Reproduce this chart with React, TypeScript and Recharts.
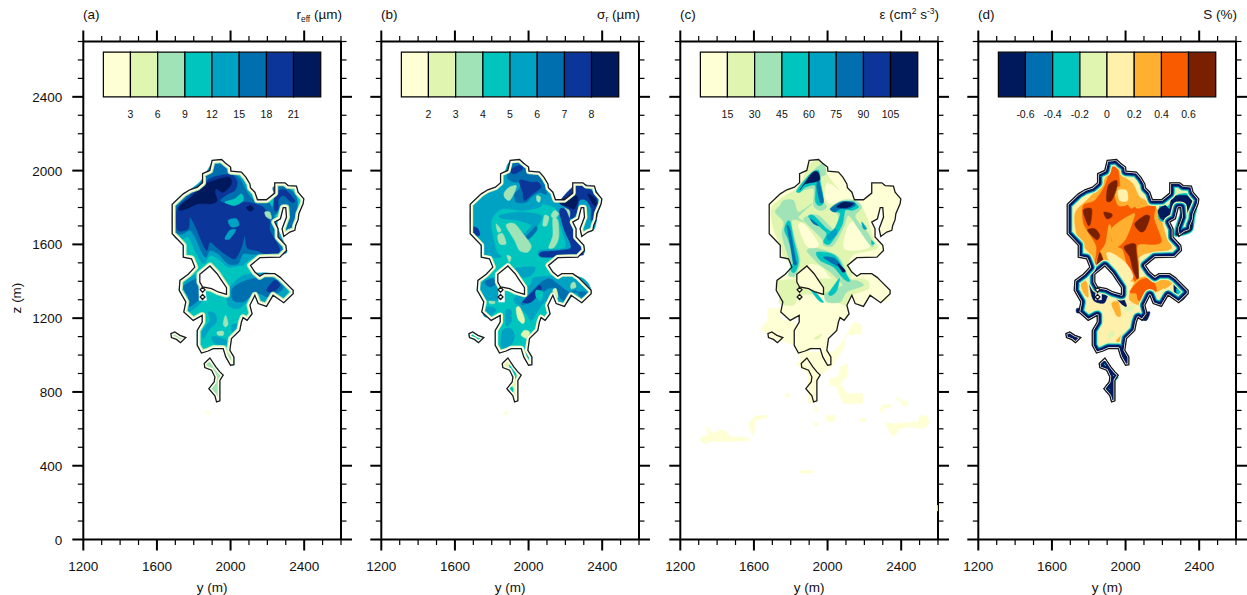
import React from 'react';
import { ScatterChart, Scatter, XAxis, YAxis, ReferenceArea, ReferenceDot, Label } from 'recharts';

const xTicks = [1200,1300,1400,1500,1600,1700,1800,1900,2000,2100,2200,2300,2400,2500,2600];
const zTicks = [0,100,200,300,400,500,600,700,800,900,1000,1100,1200,1300,1400,1500,1600,1700,1800,1900,2000,2100,2200,2300,2400,2500,2600,2700];
const xMajor = [1200,1600,2000,2400];
const zMajor = [0,400,800,1200,1600,2000,2400];
const barEdges = [1309,1456,1604,1752,1899,2047,2195,2342,2490];
const barZ = [2400,2642];
const barLabelZ = 2304;
const COOL = ['#FFFFD6','#E0F5B0','#9FE3B6','#00C5BF','#00A2C4','#006FB0','#0C3599','#00195C'];
const WARM = ['#00195C','#006FB0','#00C5BF','#E0F5B0','#FFF1AC','#FFB030','#F95C00','#7A2000'];
const labelsA = ['3','6','9','12','15','18','21'];
const labelsB = ['2','3','4','5','6','7','8'];
const labelsC = ['15','30','45','60','75','90','105'];
const labelsD = ['-0.6','-0.4','-0.2','0','0.2','0.4','0.6'];

// cloud edge (black contour), y,z pairs in metres
const edgeMain = [1900,2055,1951,2060,1973,2040,2000,2019,2002,1997,2059,1992,2083,1965,2105,1928,2108,1907,2132,1883,2146,1842,2195,1842,2240,1878,2240,1934,2295,1934,2313,1919,2358,1916,2367,1883,2398,1847,2394,1820,2371,1766,2367,1734,2354,1703,2349,1676,2322,1667,2289,1643,2280,1685,2304,1748,2300,1799,2286,1799,2271,1739,2240,1721,2258,1685,2258,1640,2300,1595,2304,1567,2268,1531,2159,1528,2108,1486,2132,1450,2159,1427,2181,1441,2240,1441,2271,1420,2286,1405,2340,1351,2340,1333,2289,1284,2231,1324,2195,1264,2150,1279,2132,1324,2105,1270,2117,1224,2090,1188,2068,1203,2059,1179,2050,1134,2005,1089,1996,1026,2018,990,2018,948,2000,945,1974,990,1960,1035,1906,1035,1878,1022,1842,1011,1819,1053,1819,1134,1846,1179,1846,1215,1797,1188,1746,1234,1757,1288,1721,1351,1725,1405,1770,1438,1806,1477,1788,1522,1743,1531,1743,1595,1683,1658,1683,1817,1743,1874,1779,1896,1820,1910,1848,1934,1848,1983,1887,2001];
const edgeSmall = [1676,1116,1697,1125,1725,1107,1757,1095,1728,1067,1706,1085,1679,1095];
const edgeLower = [1888,984,1920,936,1942,909,1960,891,1942,863,1942,752,1924,746,1915,779,1882,818,1911,854,1915,881,1897,918,1860,932,1857,954];
const edgeHole = [1888,1483,1927,1441,1951,1405,1978,1365,1978,1329,1933,1342,1897,1360,1848,1369,1833,1396,1833,1438];
const edgeDot1 = [1848,1368,1861,1354,1848,1340,1835,1354];
const edgeDot2 = [1848,1329,1861,1315,1848,1301,1835,1315];
const speck = [1870,695,1885,695,1885,678,1870,678];

type Patch = [number, number[]];

const patchesA: Patch[] = [
  [4,[1688,1658,1688,1811,1752,1874,1833,1938,1869,1992,1906,2046,1969,2040,2005,1997,2059,1983,2105,1901,2141,1838,2204,1835,2250,1739,2258,1685,2300,1585,2295,1549,2159,1535,2096,1513,2069,1486,2050,1486,1987,1477,1933,1522,1888,1540,1851,1495,1806,1567,1770,1640,1725,1622]],
  [5,[1697,1667,1697,1802,1761,1865,1842,1938,1888,2001,1915,2033,1960,2033,1987,2001,2050,1956,2090,1883,2132,1838,2213,1820,2240,1721,2240,1658,2295,1567,2268,1546,2123,1546,2069,1549,2041,1495,1987,1495,1933,1549,1888,1567,1860,1531,1806,1640,1779,1676,1743,1658]],
  [6,[1710,1679,1710,1793,1770,1856,1842,1919,1888,1956,1942,1974,2005,1979,2036,1938,2023,1892,1987,1874,1942,1838,1987,1820,2087,1829,2159,1811,2192,1784,2213,1721,2213,1676,2258,1595,2264,1558,2195,1549,2141,1567,2090,1582,2078,1649,2059,1585,2023,1522,1969,1549,1924,1585,1888,1613,1869,1567,1833,1640,1815,1685,1779,1748,1770,1685]],
  [7,[1721,1784,1728,1811,1797,1865,1851,1919,1888,1938,1987,1965,2005,1928,1960,1883,1924,1901,1915,1883,1927,1838,1897,1820,1824,1820,1761,1793]],
  [7,[2087,1799,2108,1811,2126,1793,2105,1780]],
  [7,[2240,1829,2253,1845,2268,1829,2253,1811]],
  [4,[1987,1730,2032,1739,2045,1703,2005,1694]],
  [4,[1969,1631,1996,1676,2029,1679,1996,1631]],
  [3,[1969,1829,2023,1847,2059,1874,2069,1838,2023,1811]],
  [5,[2231,1910,2295,1919,2358,1856,2358,1748,2331,1685,2304,1676,2322,1766,2313,1811,2277,1811,2250,1766,2222,1766,2240,1856]],
  [6,[2240,1874,2295,1896,2349,1838,2331,1829,2286,1865,2259,1838,2259,1793,2240,1784]],
  [2,[2186,1775,2213,1775,2222,1739,2195,1748]],
  [4,[1987,1270,1987,1351,2069,1432,2231,1441,2313,1360,2277,1306,2222,1333,2186,1288,2150,1297,2123,1333,2078,1279,2041,1252]],
  [5,[2014,1297,2011,1360,2087,1405,2213,1423,2286,1369,2250,1333,2195,1315,2159,1333,2105,1315,2069,1288]],
  [6,[2195,1351,2240,1405,2268,1378,2231,1342]],
  [4,[1734,1369,1788,1427,1842,1423,1860,1369,1842,1288,1770,1234,1757,1297]],
  [5,[1743,1369,1797,1405,1848,1414,1842,1360,1824,1297,1770,1261,1770,1315]],
  [4,[1878,1234,1915,1224,1924,1179,1888,1143,1851,1089,1848,1134,1888,1188]],
  [4,[1897,1098,1933,1098,1978,1080,1969,1053,1915,1062]],
  [4,[2005,1161,2036,1170,2036,1134,2011,1125]],
  [2,[1960,1170,1973,1215,1987,1170,1973,1152]],
  [2,[1927,1125,1960,1129,1960,1107,1933,1107]],
  [2,[1987,1017,2018,981,2018,948,1996,948,1972,999]],
];
const holesWhiteA = [1828,1370,1860,1375,1869,1297,1830,1297];

const patchesB: Patch[] = [
  [4,[1688,1694,1688,1802,1752,1865,1842,1919,1869,1983,1896,2046,1969,2046,1996,1997,2068,1983,2123,1874,2150,1838,2222,1838,2249,1928,2349,1910,2394,1838,2376,1766,2358,1685,2322,1667,2304,1685,2313,1793,2286,1811,2259,1739,2240,1730,2258,1640,2298,1549,2078,1528,2059,1567,2168,1576,2204,1595,2168,1721,2150,1793,2078,1820,2059,1802,1969,1784,1860,1793,1806,1748,1797,1694,1824,1567,1851,1531,1770,1531,1752,1567,1725,1631]],
  [4,[1842,1757,1951,1775,2068,1757,2050,1703,1996,1631,1969,1649,2014,1703,1942,1730,1860,1739]],
  [5,[1978,1631,2038,1697,2045,1676,2005,1631]],
  [5,[1887,2001,1906,2046,1969,2046,1996,1997,2059,1974,2099,1874,2059,1883,2014,1856,1987,1829,1933,1829,1924,1874,1951,1901,1960,1937,1924,1937,1887,1956]],
  [6,[1896,2001,1951,2028,1969,2010,1924,1983]],
  [6,[1951,1947,2014,1937,2050,1937,2068,1910,2023,1874,1978,1838,1969,1883]],
  [2,[1869,1883,1896,1910,1933,1919,1924,1883,1896,1838,1869,1856]],
  [6,[1694,1694,1725,1685,1734,1649,1701,1649]],
  [6,[2249,1919,2304,1919,2367,1865,2376,1802,2358,1748,2340,1730,2340,1793,2313,1838,2277,1838,2259,1766,2231,1739,2204,1802,2168,1829]],
  [7,[2168,1838,2249,1865,2268,1847,2249,1793,2213,1806,2186,1811]],
  [7,[2322,1874,2363,1847,2367,1811,2349,1820]],
  [2,[2195,1793,2222,1784,2222,1748,2195,1748]],
  [6,[2168,1784,2204,1784,2249,1658,2295,1558,2277,1540,2078,1531,2068,1558,2168,1567,2231,1585,2195,1676]],
  [2,[1878,1703,1924,1712,1969,1658,2014,1595,1996,1558,1951,1567,1924,1622]],
  [2,[1833,1649,1860,1658,1878,1604,1842,1604]],
  [2,[1824,1712,1851,1676,1833,1667]],
  [2,[2087,1757,2110,1748,2099,1703,2078,1703]],
  [2,[2141,1784,2164,1766,2141,1739,2123,1757]],
  [2,[2132,1739,2159,1730,2164,1640,2141,1586,2110,1582,2132,1649]],
  [2,[2045,1865,2065,1856,2059,1829,2045,1838]],
  [2,[1882,1540,1905,1531,1896,1504]],
  [4,[1924,1468,2032,1477,2014,1432,1960,1423]],
  [4,[1924,1288,1933,1324,2014,1387,2041,1423,2277,1423,2340,1351,2298,1297,2249,1333,2204,1279,2159,1288,2132,1333,2105,1297,2078,1279,2041,1224,2014,1188,1987,1224]],
  [5,[1960,1279,2059,1387,2114,1414,2168,1378,2222,1342,2313,1342,2286,1315,2249,1351,2195,1297,2168,1315,2150,1360,2105,1360,2059,1324,2014,1288]],
  [6,[1969,1288,2023,1342,2059,1378,2068,1351,2014,1288]],
  [1,[2132,1351,2150,1360,2159,1315,2141,1306]],
  [2,[2231,1387,2249,1396,2258,1369,2231,1360]],
  [3,[2041,1351,2078,1342,2068,1297,2041,1315]],
  [1,[1933,1252,1951,1261,1978,1197,1969,1170,1942,1197]],
  [1,[1978,1134,2005,1125,1996,1089,1960,1107]],
  [2,[1788,1297,1815,1297,1815,1279,1788,1279]],
  [4,[1734,1369,1770,1414,1833,1414,1842,1351,1833,1297,1752,1306]],
  [5,[1761,1396,1806,1414,1824,1387,1788,1369]],
  [4,[1752,1252,1797,1261,1824,1242,1779,1206,1755,1215]],
  [4,[1878,1242,1905,1242,1905,1179,1878,1161]],
  [4,[1860,1134,1905,1143,1924,1098,1896,1044,1851,1044]],
  [4,[1987,999,2009,1008,2014,963,1996,972]],
  [3,[1896,945,1924,927,1933,881,1915,873]],
  [3,[1896,827,1915,824,1915,800,1896,800]],
];
const holesWhiteB = [1837,1370,1869,1375,1869,1288,1839,1288];

const cloudPatchesC: number[][] = [
  [1674,1252,1743,1252,1743,1197,1824,1179,1824,1053,1743,1080,1680,1107,1634,1143,1674,1188],
  [1834,1017,2033,1017,2087,1080,2141,1179,2186,1161,2186,1116,2096,1107,2087,1035,2051,981,2024,936,1951,882,1942,746,1897,737,1888,827,1897,891,1861,927,1830,945,1855,981],
  [2011,873,2060,882,2069,936,2110,954,2105,882,2069,845,2105,791,2192,791,2192,737,2087,737,2060,791,2047,831,2011,836],
  [2304,1306,2340,1324,2331,1297,2304,1288],
  [1770,791,1794,791,1794,773,1770,773],
  [1928,719,1948,719,1948,697,1928,697],
  [1928,634,1948,634,1948,616,1928,616],
  [1993,674,2047,674,2033,638,1996,638],
  [2174,656,2208,656,2208,638,2174,638],
  [1309,553,1354,566,1336,611,1354,602,1372,575,1417,593,1444,589,1472,557,1571,553,1571,535,1354,530,1336,517,1312,530],
  [1571,629,1607,669,1671,674,1671,661,1607,647,1598,557,1580,593],
  [2282,701,2295,728,2349,734,2344,719,2304,710,2295,683],
  [2377,773,2395,759,2431,746,2427,719,2404,728,2395,755,2373,759],
  [2313,632,2358,629,2431,632,2494,638,2500,674,2539,669,2554,629,2521,602,2449,611,2395,602,2358,557,2331,593],
  [1850,375,1920,375,1920,360,1850,360],
  [2590,185,2598,185,2598,155,2590,155],
];
const patchesC: Patch[] = [
  [1,[1698,1802,1770,1865,1842,1910,1906,2037,1969,2046,1996,1983,2050,1910,2105,1838,2168,1829,2213,1748,2250,1622,2268,1577,2150,1549,2114,1504,2132,1432,2078,1387,2014,1423,1969,1477,1915,1495,1879,1477,1815,1414,1797,1495,1761,1531,1743,1595,1716,1658,1698,1721]],
  [1,[1743,1279,1739,1333,1743,1405,2141,1414,2214,1405,2223,1360,2132,1324,2105,1270,2069,1279,1978,1324,1852,1324,1815,1270]],
  [0,[1996,1928,2041,1910,2096,1847,2014,1820,1987,1865]],
  [0,[2114,1703,2168,1721,2231,1595,2150,1567,2087,1586]],
  [0,[1842,1703,1879,1703,1951,1604,1915,1577,1879,1604]],
  [2,[1833,1901,1933,2010,1978,2037,1991,1983,1960,1956,1978,1838,1996,1802,1960,1784,1924,1811,1924,1901,1860,1892]],
  [3,[1833,1892,1906,1983,1951,2001,1960,1947,1978,1829,1951,1811,1933,1838,1933,1919,1879,1910,1851,1883]],
  [5,[1951,1947,1978,1838,1960,1829,1942,1910]],
  [7,[1851,1896,1915,1986,1947,1992,1955,1947,1879,1928]],
  [2,[1761,1838,1815,1838,1842,1775,1915,1820,1842,1748,1879,1721,1806,1730,1824,1622,1851,1513,1824,1432,1788,1432,1797,1495,1770,1586,1752,1658,1761,1721,1716,1775,1743,1811]],
  [3,[1779,1721,1797,1721,1815,1631,1842,1513,1824,1450,1802,1459,1815,1522,1788,1622,1766,1676]],
  [5,[1779,1703,1797,1676,1824,1531,1833,1495,1815,1495,1797,1604]],
  [2,[1879,1748,1951,1757,2041,1676,2059,1757,2014,1793,2078,1838,2150,1838,2186,1802,2150,1757,2168,1721,2222,1658,2250,1595,2231,1595,2168,1685,2114,1757,2087,1694,2032,1595,1978,1595,1969,1631,1879,1721]],
  [3,[1897,1748,1924,1757,1996,1685,2032,1676,2069,1766,2023,1784,2078,1829,2141,1829,2168,1802,2132,1784,2096,1784,2078,1703,2014,1604,1978,1613,1996,1658,1969,1685]],
  [5,[2014,1793,2069,1829,2141,1829,2150,1811,2114,1793,2069,1793,2041,1775]],
  [7,[2050,1802,2087,1829,2141,1820,2105,1799]],
  [4,[1996,1640,2041,1685,2050,1658,2014,1622]],
  [5,[1906,1739,1951,1703,1924,1712]],
  [4,[2186,1721,2213,1685,2195,1685]],
  [3,[2240,1622,2255,1604,2240,1600]],
  [2,[1888,1567,1951,1577,2060,1531,2114,1423,2150,1387,2114,1351,2078,1387,2014,1450,1951,1495]],
  [3,[1942,1558,2041,1540,2105,1432,2123,1396,2087,1414,2032,1477,1960,1513]],
  [5,[1978,1531,2041,1522,2096,1450,2060,1477,2014,1504]],
  [7,[2056,1495,2096,1459,2081,1450]],
  [2,[2051,1360,2141,1405,2195,1378,2105,1342,2069,1288,1996,1288,1987,1333]],
  [3,[2005,1333,2042,1387,2065,1414,2051,1351,2024,1324]],
  [3,[1897,1369,1933,1342,1978,1288,1951,1297]],
  [1,[1924,1089,1969,1116,1951,1089]],
  [1,[1879,1026,1924,1044,1897,1022]],
];

const patchesD: Patch[] = [
  [5,[1725,1766,1797,1847,1878,1937,1915,2019,1960,2033,1996,1965,2041,1928,2078,1856,2150,1820,2186,1757,2222,1640,2250,1586,2222,1567,2105,1549,2059,1504,2069,1396,1987,1423,1933,1486,1851,1495,1815,1468,1806,1549,1743,1622]],
  [6,[1770,1811,1833,1838,1888,1919,1924,2019,1956,2019,1969,1910,1960,1838,2005,1820,2029,1793,2050,1802,2069,1793,2159,1811,2155,1739,2195,1622,2159,1600,2065,1595,2072,1486,2059,1396,2018,1459,1987,1567,1960,1586,1924,1622,1924,1694,1906,1703,1888,1604,1851,1549,1830,1474,1842,1586,1797,1667,1770,1721]],
  [5,[1924,1685,2041,1766,2041,1730,1996,1622,1942,1586]],
  [5,[1942,1901,2014,1910,2029,1829,1960,1811]],
  [4,[1960,1892,2005,1892,2011,1838,1969,1838]],
  [7,[1906,1919,1951,1947,1951,1901,1924,1838,1897,1838]],
  [7,[1770,1784,1815,1793,1811,1721,1797,1703]],
  [7,[1882,1775,1924,1766,1924,1748,1897,1739]],
  [7,[1793,1676,1833,1685,1860,1649,1842,1625]],
  [7,[2050,1712,2105,1757,2132,1748,2105,1676,2078,1670]],
  [7,[1992,1586,2050,1604,2059,1549,2072,1405,2041,1459,2023,1531]],
  [7,[1842,1486,1860,1558,1882,1495,1851,1486]],
  [4,[1897,1549,1933,1549,2005,1495,2041,1423,1987,1387,1933,1459]],
  [2,[2186,1811,2240,1865,2340,1878,2391,1838,2376,1739,2358,1667,2271,1643,2268,1685,2295,1766,2289,1793,2271,1793,2253,1734,2213,1721,2181,1739]],
  [3,[2213,1829,2240,1883,2250,1934,2295,1934,2367,1883,2286,1874,2231,1811]],
  [0,[2177,1784,2213,1811,2240,1793,2253,1856,2331,1865,2385,1838,2367,1748,2358,1676,2277,1649,2277,1685,2300,1766,2295,1802,2268,1799,2250,1739,2222,1730,2192,1739]],
  [5,[2023,1297,2029,1351,2069,1414,2177,1432,2231,1387,2168,1342,2114,1333,2087,1270]],
  [6,[2023,1342,2078,1405,2141,1414,2168,1351,2123,1333,2105,1297,2069,1297,2059,1333]],
  [5,[2204,1378,2240,1414,2250,1387,2213,1360]],
  [5,[1924,1279,1960,1288,1974,1215,1951,1215]],
  [5,[1951,1080,1987,1116,1987,1089,1960,1071]],
  [5,[1752,1405,1788,1396,1797,1315,1770,1342]],
  [3,[1906,1107,1927,1134,1942,1113,1915,1089]],
  [3,[1987,1252,2050,1270,2023,1234]],
  [0,[1806,1396,1842,1414,1906,1369,1969,1342,2005,1270,1987,1270,1915,1333,1884,1282,1830,1293,1811,1342]],
  [0,[1924,1414,1960,1405,1987,1369,1960,1351]],
  [0,[2268,1405,2336,1342,2304,1293,2268,1315]],
  [2,[2277,1360,2313,1333,2286,1315]],
  [0,[2090,1224,2132,1234,2114,1188,2078,1197]],
  [0,[1734,1252,1757,1252,1757,1230,1734,1230]],
  [2,[1878,963,1915,939,1960,881,1933,864,1902,921]],
  [4,[1902,939,1927,914,1945,881,1927,885]],
  [2,[1902,824,1915,810,1902,800]],
  [4,[1987,986,2014,986,2014,954,1996,954]],
];
const holesWhiteD = [1837,1333,1869,1333,1869,1300,1837,1300];

const rows = (flat: number[]) => {
  const out: { y: number; z: number }[] = [];
  for (let i = 0; i < flat.length; i += 2) out.push({ y: flat[i], z: flat[i + 1] });
  return out;
};
const noDot = () => null;
const FONT = '"Liberation Sans", Arial, sans-serif';

const toD = (pts: { x: number; y: number }[]) =>
  'M' + pts.map((p) => `${p.x},${p.y}`).join('L') + 'Z';

// closed spline through the already scaled points, so a contour keeps its traced position
const toSmoothD = (pts: { x: number; y: number }[]) => {
  const n = pts.length;
  const k = 1 / 7;
  let d = `M${pts[0].x},${pts[0].y}`;
  for (let i = 0; i < n; i++) {
    const p0 = pts[(i - 1 + n) % n];
    const p1 = pts[i];
    const p2 = pts[(i + 1) % n];
    const p3 = pts[(i + 2) % n];
    d += `C${p1.x + (p2.x - p0.x) * k},${p1.y + (p2.y - p0.y) * k} ${p2.x - (p3.x - p1.x) * k},${p2.y - (p3.y - p1.y) * k} ${p2.x},${p2.y}`;
  }
  return d + 'Z';
};

const xTick = (side: 'bottom' | 'top') => (p: any) => {
  const v = p.payload.value;
  const major = xMajor.includes(v);
  const s = side === 'bottom' ? 1 : -1;
  const len = major ? 11 : 5.5;
  return (
    <g>
      <line x1={p.x} x2={p.x} y1={p.y} y2={p.y + s * len} stroke="#000" strokeWidth={major ? 2 : 1.2} />
      {side === 'bottom' && major ? (
        <text x={p.x} y={p.y + 31} textAnchor="middle" fontSize={13.5} fontFamily={FONT} fill="#111">{v}</text>
      ) : null}
    </g>
  );
};
const zTick = (side: 'left' | 'right', labelled: boolean) => (p: any) => {
  const v = p.payload.value;
  const major = zMajor.includes(v);
  const s = side === 'left' ? -1 : 1;
  const len = major ? 11 : 5.5;
  return (
    <g>
      <line x1={p.x} x2={p.x + s * len} y1={p.y} y2={p.y} stroke="#000" strokeWidth={major ? 2 : 1.2} />
      {side === 'left' && major && labelled ? (
        <text x={p.x - 21} y={p.y + 5} textAnchor="end" fontSize={13.5} fontFamily={FONT} fill="#111">{v}</text>
      ) : null}
    </g>
  );
};

type PanelSpec = {
  id: string;
  letter: string;
  title: React.ReactNode;
  palette: string[];
  labels: string[];
  base: [number, number, number];
  patches: Patch[];
  clouds?: number[][];
  bands: [number, number][];
  gap: number;
  holeFill: string;
  whiteSpot?: number[];
  speckVisible: boolean;
  offset: number;
  labelled: boolean;
};

const fillSeries = (key: string, flat: number[], color: string) => (
  <Scatter
    key={key}
    data={rows(flat)}
    shape={noDot}
    line={{ fill: color, stroke: color, strokeWidth: 0.6, strokeLinejoin: 'round' }}
    lineJointType="linearClosed"
    isAnimationActive={false}
    legendType="none"
  />
);

const smoothSeries = (key: string, flat: number[], color: string) => (
  <Scatter
    key={key}
    data={rows(flat)}
    shape={noDot}
    isAnimationActive={false}
    legendType="none"
    line={(p: any) => <path d={toSmoothD(p.points)} fill={color} stroke={color} strokeWidth={0.5} />}
  />
);

const bandSeries = (key: string, flat: number[], bands: [string, number][]) => (
  <Scatter
    key={key}
    data={rows(flat)}
    shape={noDot}
    isAnimationActive={false}
    legendType="none"
    line={(p: any) => {
      const d = toD(p.points);
      return (
        <g>
          <clipPath id={key}><path d={d} /></clipPath>
          <g clipPath={`url(#${key})`}>
            {bands.map(([c, w], i) => (
              <path key={i} d={d} fill="none" stroke={c} strokeWidth={w} strokeLinejoin="round" />
            ))}
          </g>
        </g>
      );
    }}
  />
);

const ringSeries = (key: string, flat: number[], fill: string, bands: [string, number][]) => (
  <Scatter
    key={key}
    data={rows(flat)}
    shape={noDot}
    isAnimationActive={false}
    legendType="none"
    line={(p: any) => {
      const d = toD(p.points);
      return (
        <g>
          {bands.map(([c, w], i) => (
            <path key={i} d={d} fill="none" stroke={c} strokeWidth={w} strokeLinejoin="round" />
          ))}
          <path d={d} fill={fill} stroke="none" />
        </g>
      );
    }}
  />
);

const lineSeries = (key: string, flat: number[]) => (
  <Scatter
    key={key}
    data={rows(flat)}
    shape={noDot}
    line={{ fill: 'none', stroke: '#1a1a1a', strokeWidth: 1.3 }}
    lineJointType="linearClosed"
    isAnimationActive={false}
    legendType="none"
  />
);

function Panel({ s }: { s: PanelSpec }) {
  const pal = s.palette;
  const bandColors: [string, number][] = s.bands.map(([l, w]) => [pal[l], w]);
  if (s.gap > 0) bandColors.push(['#ffffff', s.gap]);
  return (
    <div style={{ position: 'absolute', left: s.offset, top: 0, width: 352, height: 595 }}>
      <ScatterChart width={352} height={595} margin={{ top: 11.5, right: 0, bottom: 0, left: 0 }}>
        <XAxis xAxisId={0} dataKey="y" type="number" domain={[1200, 2600]} allowDataOverflow ticks={xTicks} interval={0}
          orientation="bottom" height={55.5} tick={xTick('bottom')} tickLine={false} tickSize={0} tickMargin={0}
          axisLine={{ stroke: '#000', strokeWidth: 2 }}>
          <Label value="y (m)" position="insideBottom" offset={3} fontSize={13.5} fontFamily={FONT} fill="#111" />
        </XAxis>
        <XAxis xAxisId="top" dataKey="y" type="number" domain={[1200, 2600]} allowDataOverflow ticks={xTicks} interval={0}
          orientation="top" height={30} tick={xTick('top')} tickLine={false} tickSize={0} tickMargin={0}
          axisLine={{ stroke: '#000', strokeWidth: 2 }} />
        <YAxis yAxisId={0} dataKey="z" type="number" domain={[0, 2700]} allowDataOverflow ticks={zTicks} interval={0}
          orientation="left" width={83.3} tick={zTick('left', s.labelled)} tickLine={false} tickSize={0} tickMargin={0}
          axisLine={{ stroke: '#000', strokeWidth: 2 }} />
        <YAxis yAxisId="right" dataKey="z" type="number" domain={[0, 2700]} allowDataOverflow ticks={zTicks} interval={0}
          orientation="right" width={11} tick={zTick('right', false)} tickLine={false} tickSize={0} tickMargin={0}
          axisLine={{ stroke: '#000', strokeWidth: 2 }} />

        {s.speckVisible ? fillSeries(`${s.id}-speck`, speck, pal[0]) : null}
        {(s.clouds || []).map((c, i) => fillSeries(`${s.id}-cloud${i}`, c, pal[0]))}
        {fillSeries(`${s.id}-baseM`, edgeMain, pal[s.base[0]])}
        {fillSeries(`${s.id}-baseS`, edgeSmall, pal[s.base[1]])}
        {fillSeries(`${s.id}-baseL`, edgeLower, pal[s.base[2]])}
        {s.patches.map(([lvl, flat], i) => smoothSeries(`${s.id}-p${i}`, flat, pal[lvl]))}
        {s.whiteSpot ? fillSeries(`${s.id}-white`, s.whiteSpot, s.holeFill) : null}
        {ringSeries(`${s.id}-hole`, edgeHole, s.holeFill, bandColors)}
        {bandSeries(`${s.id}-bandM`, edgeMain, bandColors)}
        {bandSeries(`${s.id}-bandS`, edgeSmall, bandColors.slice(-2))}
        {bandSeries(`${s.id}-bandL`, edgeLower, bandColors.slice(-2))}
        {lineSeries(`${s.id}-lineM`, edgeMain)}
        {lineSeries(`${s.id}-lineS`, edgeSmall)}
        {lineSeries(`${s.id}-lineL`, edgeLower)}
        {lineSeries(`${s.id}-lineH`, edgeHole)}
        {fillSeries(`${s.id}-d1`, edgeDot1, s.holeFill)}
        {fillSeries(`${s.id}-d2`, edgeDot2, s.holeFill)}
        {lineSeries(`${s.id}-lineD1`, edgeDot1)}
        {lineSeries(`${s.id}-lineD2`, edgeDot2)}

        {pal.map((c, i) => (
          <ReferenceArea key={i} x1={barEdges[i]} x2={barEdges[i + 1]} y1={barZ[0]} y2={barZ[1]}
            fill={c} fillOpacity={1} stroke="#000" strokeWidth={1.2} ifOverflow="visible" />
        ))}
        {s.labels.map((t, i) => (
          <ReferenceDot key={t} x={barEdges[i + 1]} y={barLabelZ} r={0} fill="none" stroke="none" ifOverflow="visible"
            label={{ value: t, position: 'center', fontSize: 10.5, fontFamily: FONT, fill: '#111' }} />
        ))}

        <text x={83} y={19} fontSize={13.5} fontFamily={FONT} fill="#111">{s.letter}</text>
        <text x={342} y={19} textAnchor="end" fontSize={13.5} fontFamily={FONT} fill="#111">{s.title}</text>
        {s.labelled ? (
          <text x={21} y={298} textAnchor="middle" fontSize={13.5} fontFamily={FONT} fill="#111"
            transform="rotate(-90 21 298)">z (m)</text>
        ) : null}
      </ScatterChart>
    </div>
  );
}

const STEP = 298.33;
const panels: PanelSpec[] = [
  { id: 'a', letter: '(a)', palette: COOL, labels: labelsA, base: [3, 2, 2], patches: patchesA,
    bands: [[2, 7], [1, 5.5], [0, 4.4]], gap: 3, holeFill: '#ffffff', whiteSpot: holesWhiteA, speckVisible: true, offset: 0, labelled: true,
    title: <>r<tspan fontSize={8.5} dy={3}>eff</tspan><tspan dy={-3}> (µm)</tspan></> },
  { id: 'b', letter: '(b)', palette: COOL, labels: labelsB, base: [3, 3, 1], patches: patchesB,
    bands: [[2, 6], [1, 5.2], [0, 4.4]], gap: 3, holeFill: '#ffffff', whiteSpot: holesWhiteB, speckVisible: true, offset: STEP, labelled: false,
    title: <>σ<tspan fontSize={8.5} dy={3}>r</tspan><tspan dy={-3}> (µm)</tspan></> },
  { id: 'c', letter: '(c)', palette: COOL, labels: labelsC, base: [0, 0, 0], patches: patchesC, clouds: cloudPatchesC,
    bands: [], gap: 0, holeFill: COOL[0], speckVisible: false, offset: STEP * 2, labelled: false,
    title: <>ε (cm<tspan fontSize={8.5} dy={-5}>2</tspan><tspan dy={5}> s</tspan><tspan fontSize={8.5} dy={-5}>-3</tspan><tspan dy={5}>)</tspan></> },
  { id: 'd', letter: '(d)', palette: WARM, labels: labelsD, base: [4, 0, 0], patches: patchesD,
    bands: [[3, 12.5], [2, 10], [1, 8.5], [0, 7]], gap: 2.6, holeFill: '#ffffff', whiteSpot: holesWhiteD, speckVisible: false, offset: STEP * 3, labelled: false,
    title: <>S (%)</> },
];

export default function App() {
  return (
    <div style={{ position: 'absolute', left: 0, top: 0, width: 1247, height: 595, background: '#fff', overflow: 'hidden' }}>
      {panels.map((s) => <Panel key={s.id} s={s} />)}
    </div>
  );
}
